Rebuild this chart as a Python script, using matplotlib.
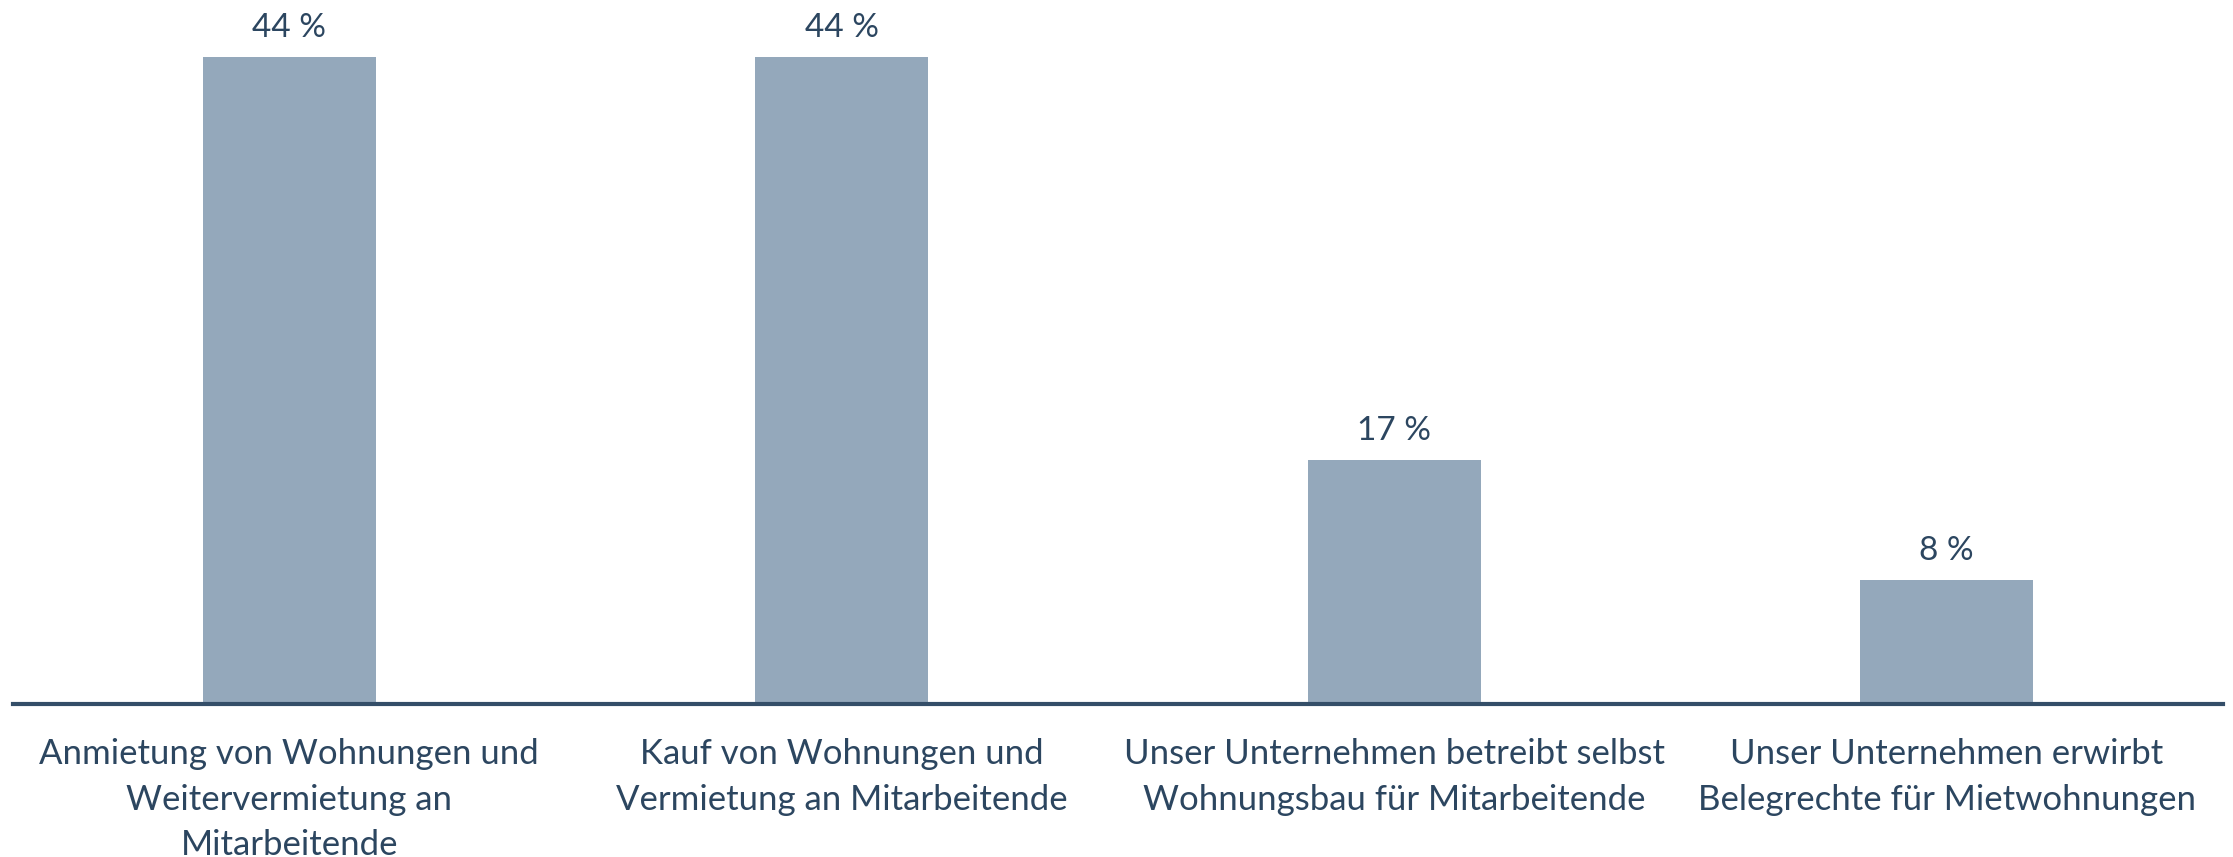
import matplotlib
matplotlib.use("Agg")
import matplotlib.pyplot as plt

categories = [
    "Anmietung von Wohnungen und\nWeitervermietung an\nMitarbeitende",
    "Kauf von Wohnungen und\nVermietung an Mitarbeitende",
    "Unser Unternehmen betreibt selbst\nWohnungsbau für Mitarbeitende",
    "Unser Unternehmen erwirbt\nBelegrechte für Mietwohnungen",
]
values = [44, 44, 16.6, 8.4]

BAR_COLOR = "#94A8BB"
TEXT_COLOR = "#2C4660"
AXIS_COLOR = "#344E68"

plt.rcParams['font.family'] = ['Lato', 'DejaVu Sans']

W, H = 2233, 857
fig = plt.figure(figsize=(W / 100, H / 100), dpi=100)
left, right = 13 / W, 2223 / W
bottom = (H - 703.5) / H
ax = fig.add_axes([left, bottom, right - left, 1 - bottom])

x = list(range(len(categories)))
bars = ax.bar(x, values, width=0.313, color=BAR_COLOR, zorder=2)
ax.set_xlim(-0.5, len(categories) - 0.5)
ax.set_ylim(0, 44 * 703.5 / 646.5)

for b, v in zip(bars, values):
    ax.annotate(f"{v:.0f} %", (b.get_x() + b.get_width() / 2, b.get_height()),
                xytext=(0, 10), textcoords="offset points", ha="center", va="bottom",
                fontsize=24, color=TEXT_COLOR)

for s in ["top", "right", "left"]:
    ax.spines[s].set_visible(False)
ax.spines["bottom"].set_color(AXIS_COLOR)
ax.spines["bottom"].set_linewidth(3)
ax.set_yticks([])
ax.set_xticks(x)
ax.set_xticklabels(categories, fontsize=25, color=TEXT_COLOR, linespacing=1.52)
ax.tick_params(axis="x", length=0, pad=25)

fig.savefig("out.png", dpi=100)
